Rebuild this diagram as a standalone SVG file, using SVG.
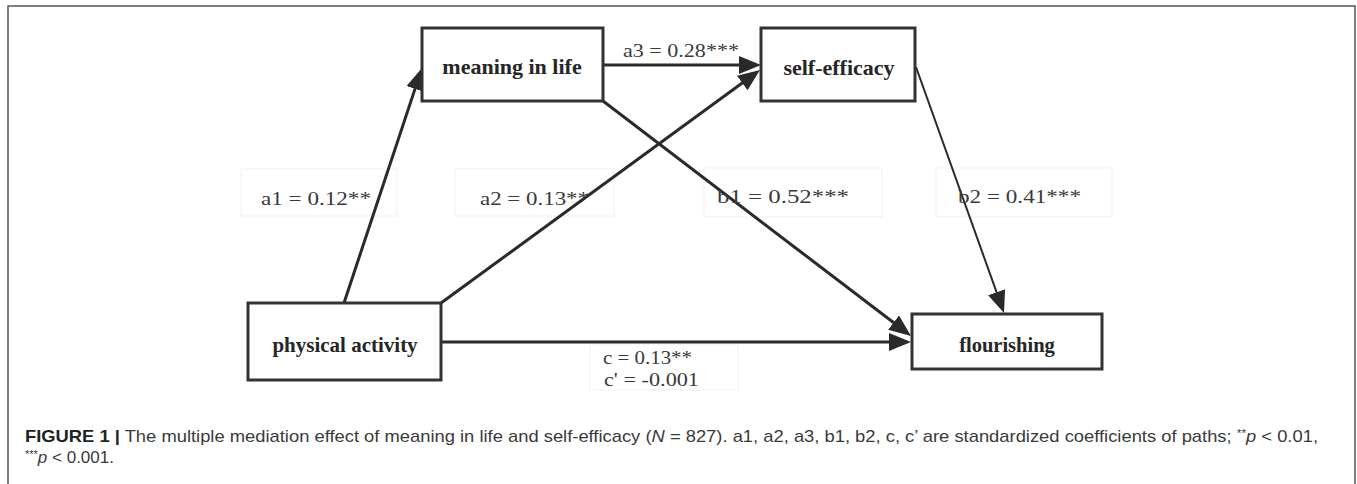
<svg xmlns="http://www.w3.org/2000/svg" width="1357" height="484" viewBox="0 0 1357 484">
<style>
.box{fill:#fff;stroke:#333;stroke-width:3}
.nt{font-family:"Liberation Serif","Times New Roman",serif;font-weight:bold;font-size:21px;fill:#262626;text-anchor:middle}
.lb{font-family:"Liberation Serif","Times New Roman",serif;font-size:19px;fill:#3a3a3a}
.lbox{fill:#fff;stroke:#f1f1f1;stroke-width:1}
.edge{fill:none;stroke:#2a2a2a;stroke-width:3}
.thin{stroke-width:2}
.cap{font-family:"Liberation Sans Narrow","Liberation Sans",Arial,sans-serif;font-size:17px;fill:#3a3a3a}
</style>
<defs>
<marker id="ah" viewBox="0 0 22 18" refX="11" refY="9" markerWidth="22" markerHeight="18" markerUnits="userSpaceOnUse" orient="auto">
<path d="M0,0 L22,9 L0,18 z" fill="#2a2a2a"/>
</marker>
</defs>
<rect width="1357" height="484" fill="#fff"/>
<rect x="8" y="6" width="1347" height="500" fill="none" stroke="#555" stroke-width="1.5"/>
<g id="labels-bg">
<rect class="lbox" x="241" y="169" width="156" height="47"/>
<rect class="lbox" x="455" y="169" width="159" height="47"/>
<rect class="lbox" x="704" y="168" width="178" height="49"/>
<rect class="lbox" x="936" y="168" width="176" height="49"/>
<rect class="lbox" x="590" y="344" width="148" height="46"/>
</g>
<g id="connectors">
<line class="edge" x1="344" y1="303" x2="418.5" y2="78.4" marker-end="url(#ah)"/>
<line class="edge" x1="441" y1="303" x2="751.1" y2="76.5" marker-end="url(#ah)"/>
<line class="edge" x1="603" y1="65" x2="750" y2="65" marker-end="url(#ah)"/>
<line class="edge" x1="603" y1="101" x2="902.3" y2="329.3" marker-end="url(#ah)"/>
<line class="edge thin" x1="916" y1="67" x2="1000.3" y2="302.6" marker-end="url(#ah)"/>
<line class="edge" x1="441" y1="342" x2="900" y2="342" marker-end="url(#ah)"/>
<text class="lb" x="261" y="205" textLength="110" lengthAdjust="spacingAndGlyphs">a1 = 0.12**</text>
<text class="lb" x="480" y="205" textLength="109" lengthAdjust="spacingAndGlyphs">a2 = 0.13**</text>
<text class="lb" x="623" y="57" textLength="116" lengthAdjust="spacingAndGlyphs">a3 = 0.28***</text>
<text class="lb" x="717" y="203" textLength="132" lengthAdjust="spacingAndGlyphs">b1 = 0.52***</text>
<text class="lb" x="958" y="203" textLength="123" lengthAdjust="spacingAndGlyphs">b2 = 0.41***</text>
<text class="lb" x="603" y="364" textLength="89" lengthAdjust="spacingAndGlyphs">c = 0.13**</text>
<text class="lb" x="604" y="386" textLength="95" lengthAdjust="spacingAndGlyphs">c' = -0.001</text>
</g>
<g id="meaning-in-life">
<rect class="box" x="422" y="28" width="181" height="73"/>
<text class="nt" x="512" y="74" style="font-size:22px">meaning in life</text>
</g>
<g id="self-efficacy">
<rect class="box" x="761" y="28" width="154" height="73"/>
<text class="nt" x="839" y="75" style="font-size:22px">self-efficacy</text>
</g>
<g id="physical-activity">
<rect class="box" x="248" y="303" width="193" height="77"/>
<text class="nt" x="345" y="352">physical activity</text>
</g>
<g id="flourishing">
<rect class="box" x="912" y="314" width="190" height="55"/>
<text class="nt" x="1007" y="352" style="font-size:20.5px">flourishing</text>
</g>
<g id="caption">
<text class="cap" x="25" y="442" textLength="1293" lengthAdjust="spacingAndGlyphs"><tspan font-weight="bold" fill="#222">FIGURE 1 |</tspan> The multiple mediation effect of meaning in life and self-efficacy (<tspan font-style="italic">N</tspan> = 827). a1, a2, a3, b1, b2, c, c’ are standardized coefficients of paths; <tspan font-size="11" dy="-5">**</tspan><tspan font-style="italic" dy="5">p</tspan> &lt; 0.01,</text>
<text class="cap" x="25" y="463"><tspan font-size="11" dy="-5">***</tspan><tspan font-style="italic" dy="5">p</tspan> &lt; 0.001.</text>
</g>
</svg>
